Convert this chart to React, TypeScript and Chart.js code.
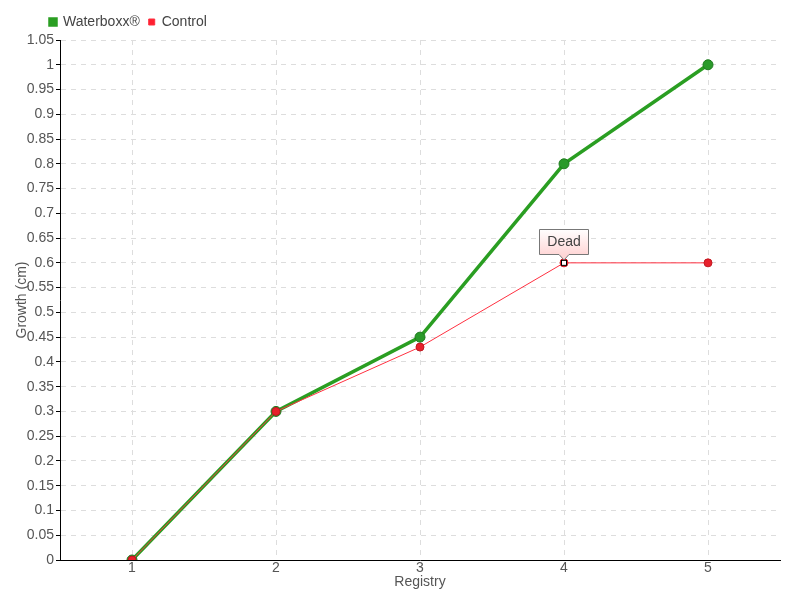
import React, { useEffect, useRef } from "react";
import { Chart, registerables } from "chart.js";

Chart.register(...registerables);

const categories = ["1", "2", "3", "4", "5"];
const waterboxxValues = [0, 0.3, 0.45, 0.8, 1.0];
const controlValues = [0, 0.3, 0.43, 0.6, 0.6];
const deadIndex = 3;
const deadLabel = "Dead";
const yTitle = "Growth (cm)";
const xTitle = "Registry";

const FONT = "'Liberation Sans Narrow', 'Liberation Sans', sans-serif";

const legendShift = {
  id: "legendShift",
  afterLayout(chart: any) {
    if (chart.legend) {
      chart.legend.left = 41;
      chart.legend.top -= 1;
    }
  },
};

const deadPlugin = {
  id: "deadNote",
  afterDatasetsDraw(chart: any) {
    const meta = chart.getDatasetMeta(1);
    const pt = meta.data[deadIndex];
    if (!pt) return;
    const ctx = chart.ctx;
    const x = pt.x;
    const y = pt.y;
    ctx.save();
    ctx.beginPath();
    ctx.arc(x, y, 4, 0, Math.PI * 2);
    ctx.fillStyle = "#e8202c";
    ctx.fill();
    ctx.fillStyle = "#ffffff";
    ctx.strokeStyle = "#000000";
    ctx.lineWidth = 1;
    ctx.fillRect(x - 2.5, y - 2.5, 5, 5);
    ctx.strokeRect(x - 2.5, y - 2.5, 5, 5);
    ctx.font = "14px " + FONT;
    const tw = ctx.measureText(deadLabel).width;
    const w = Math.max(50, tw + 16);
    const h = 26;
    const bx = Math.round(x - w / 2);
    const by = Math.round(y - 34);
    const grad = ctx.createLinearGradient(0, by, 0, by + h);
    grad.addColorStop(0, "#ffffff");
    grad.addColorStop(1, "#ffd6d6");
    ctx.beginPath();
    ctx.moveTo(bx + 0.5, by + 0.5);
    ctx.lineTo(bx + w - 0.5, by + 0.5);
    ctx.lineTo(bx + w - 0.5, by + h - 0.5);
    ctx.lineTo(x + 5, by + h - 0.5);
    ctx.lineTo(x, by + h + 5);
    ctx.lineTo(x - 5, by + h - 0.5);
    ctx.lineTo(bx + 0.5, by + h - 0.5);
    ctx.closePath();
    ctx.fillStyle = grad;
    ctx.fill();
    ctx.strokeStyle = "#777777";
    ctx.lineWidth = 1;
    ctx.stroke();
    ctx.fillStyle = "#444444";
    ctx.textAlign = "center";
    ctx.textBaseline = "middle";
    ctx.fillText(deadLabel, x, by + h / 2);
    ctx.restore();
  },
};

export default function App() {
  const ref = useRef<HTMLCanvasElement | null>(null);
  useEffect(() => {
    document.body.style.margin = "0";
    const canvas = ref.current;
    if (!canvas) return;
    const chart = new Chart(canvas, {
      type: "line",
      data: {
        labels: categories,
        datasets: [
          {
            label: "Waterboxx®",
            data: waterboxxValues,
            borderColor: "#2a9e22",
            backgroundColor: "#2a9e22",
            borderWidth: 3.5,
            pointRadius: 5,
            pointBackgroundColor: "#2a9a2a",
            pointBorderColor: "#1f7a1f",
            pointBorderWidth: 1,
            tension: 0,
            order: 1,
          },
          {
            label: "Control",
            data: controlValues,
            borderColor: "#ff3040",
            backgroundColor: "#ff2030",
            borderWidth: 1,
            pointRadius: 4,
            pointBackgroundColor: "#e8202c",
            pointBorderColor: "#c01820",
            pointBorderWidth: 1,
            tension: 0,
            order: 0,
          },
        ],
      },
      options: {
        animation: false,
        responsive: false,
        layout: { padding: { left: 0, right: 20, top: 7, bottom: 0 } },
        plugins: {
          legend: {
            position: "top",
            align: "start",
            labels: {
              boxWidth: 6,
              boxHeight: 6,
              padding: 9,
              color: "#444444",
              font: { family: FONT, size: 14 },
              sort: (a: any, b: any) => a.datasetIndex - b.datasetIndex,
            },
          },
          tooltip: { enabled: false },
        },
        scales: {
          x: {
            offset: true,
            title: {
              display: true,
              text: xTitle,
              color: "#555555",
              font: { family: FONT, size: 14 },
              padding: { top: 0, bottom: 9 },
            },
            grid: {
              color: "#dddddd",
              drawTicks: false,
              offset: false,
            } as any,
            border: { color: "#000000", width: 1, dash: [5, 5] } as any,
            ticks: {
              color: "#555555",
              padding: 0,
              font: { family: FONT, size: 14 },
            },
            afterFit(scale: any) {
              scale.height = 40;
            },
          },
          y: {
            min: 0,
            max: 1.05,
            title: {
              display: true,
              text: yTitle,
              color: "#555555",
              font: { family: FONT, size: 14 },
              padding: { top: 14, bottom: 0 },
            },
            grid: {
              color: "#dddddd",
              tickColor: "#000000",
              tickLength: 4,
              tickBorderDash: [],
            } as any,
            border: { color: "#000000", width: 1, dash: [5, 5] } as any,
            ticks: {
              stepSize: 0.05,
              color: "#555555",
              padding: 2,
              font: { family: FONT, size: 14 },
              callback: (v: any) => String(Number(Number(v).toFixed(2))),
            },
            afterFit(scale: any) {
              scale.width = 60;
            },
          },
        },
      },
      plugins: [deadPlugin, legendShift],
    });
    return () => chart.destroy();
  }, []);
  return <canvas ref={ref} width={800} height={600} style={{ display: "block" }} />;
}
